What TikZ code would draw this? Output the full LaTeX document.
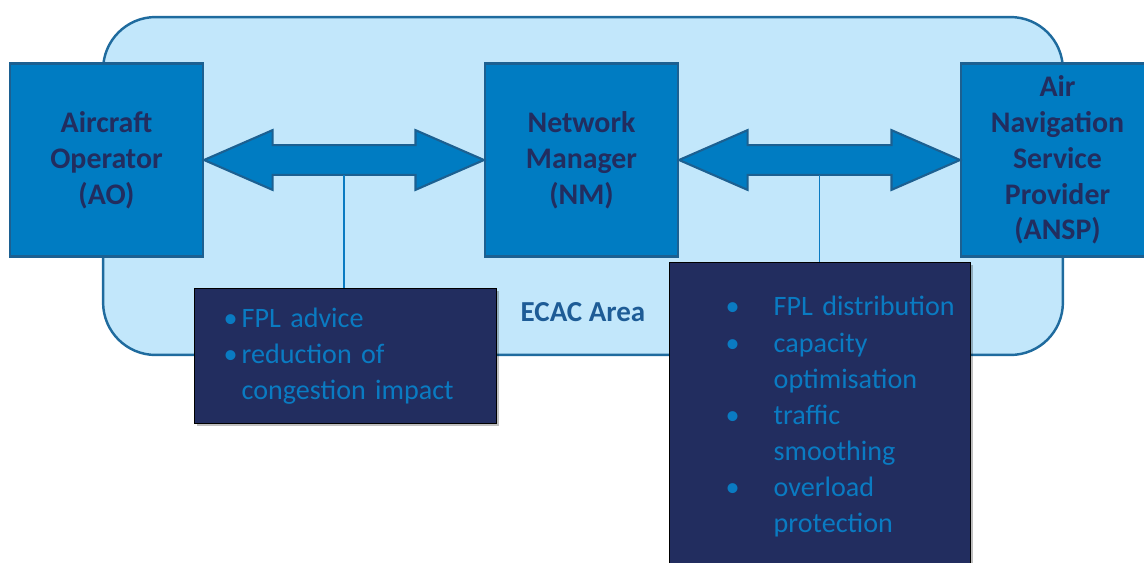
\documentclass[tikz,border=0pt]{standalone}
\usepackage{fontspec}
\setmainfont{Carlito}
\usetikzlibrary{positioning, calc, shadows}
\usepackage{xcolor}

\definecolor{ecacfill}{HTML}{C2E7FB}
\definecolor{ecacline}{HTML}{1F6B9E}
\definecolor{boxfill}{HTML}{007CC2}
\definecolor{boxline}{HTML}{1C6091}
\definecolor{navy}{HTML}{222D5F}
\definecolor{itemblue}{HTML}{0A7BC2}
\definecolor{ecactext}{HTML}{1E5C96}

\begin{document}
\begin{tikzpicture}[
        x=0.02cm, y=-0.02cm,
        area/.style={rectangle, draw=ecacline, line width=1.4pt, rounded corners=1.05cm, fill=ecacfill, minimum width=19.2cm, minimum height=6.76cm},
        actor/.style={rectangle, draw=boxline, line width=1.2pt, fill=boxfill, minimum width=3.86cm, minimum height=3.86cm, inner sep=0pt, align=center, text=navy, font=\fontsize{17}{20.4}\selectfont\bfseries},
        twoway/.style={draw=boxline, line width=1.2pt, fill=boxfill},
        link/.style={draw=itemblue, line width=0.6pt},
        note/.style={rectangle, draw=black, line width=0.8pt, fill=navy, anchor=north west, inner xsep=0pt, align=left, text=itemblue, font=\fontsize{16}{20.6}\selectfont, drop shadow={shadow xshift=1.5pt, shadow yshift=-1.5pt, fill=black, opacity=0.25}},
        arealabel/.style={font=\fontsize{16.5}{20}\selectfont\bfseries, text=ecactext}
    ]
    \useasboundingbox (0,0) rectangle (1144,562);
    \clip (0,0) rectangle (1144,562);

    % ECAC AREA
    \node[area] (ecac) at (583,186) {};
    \node[arealabel] (ecaclabel) at (583,312) {ECAC Area};

    % ACTORES
    \node[actor] (ao) at (106.5,160) {Aircraft\\Operator\\(AO)};
    \node[actor, right=5.6cm of ao] (nm) {Network\\Manager\\(NM)};
    \node[actor, right=5.62cm of nm] (ansp) {Air\\Navigation\\Service\\Provider\\(ANSP)};

    % Flechas dobles
    \foreach \a/\b/\m in {ao/nm/m1, nm/ansp/m2} {
        \draw[twoway] (\a.east) -- ++(39pt,17pt) -- ++(0,-8.5pt)
            -- ([xshift=-39pt,yshift=8.5pt]\b.west) -- ++(0,8.5pt) -- (\b.west)
            -- ++(-39pt,-17pt) -- ++(0,8.5pt)
            -- ([xshift=39pt,yshift=-8.5pt]\a.east) -- ++(0,-8.5pt) -- cycle;
        \coordinate (\m) at ([yshift=-8.5pt]$(\a.east)!0.5!(\b.west)$);
    }

    % NOTAS
    \node[note, minimum height=2.7cm, text width=6.04cm] (note1) at (194,288) {%
        \begin{tabular}{@{\hspace{0.58cm}}p{0.36cm}@{}l@{}}
            \textbullet & FPL advice\\
            \textbullet & reduction of\\
                        & congestion impact
        \end{tabular}};
    \node[note, minimum height=6.18cm, text width=6.02cm] (note2) at (669,262) {%
        \begin{tabular}{@{\hspace{1.12cm}}p{0.96cm}@{}l@{}}
            \textbullet & FPL distribution\\
            \textbullet & capacity\\
                        & optimisation\\
            \textbullet & traffic\\
                        & smoothing\\
            \textbullet & overload\\
                        & protection
        \end{tabular}};

    % Lineas de conexion
    \draw[link] (m1) -- (m1 |- note1.north);
    \draw[link] (m2) -- (m2 |- note2.north);
\end{tikzpicture}
\end{document}
